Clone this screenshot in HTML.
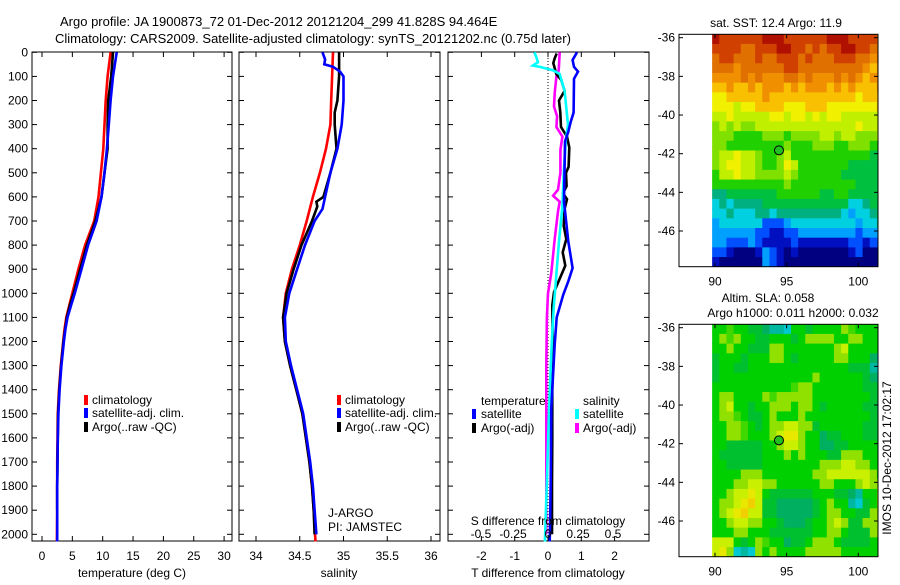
<!DOCTYPE html>
<html><head><meta charset="utf-8"><style>
body{margin:0;background:#fff;}
svg text{font-family:"Liberation Sans",sans-serif;font-size:12px;fill:#000;}
</style></head><body>
<svg id="chart" width="900" height="580" viewBox="0 0 900 580" xmlns="http://www.w3.org/2000/svg">
<rect width="900" height="580" fill="#fff"/>
<text x="60" y="26" style="font-size:13px">Argo profile: JA 1900873_72 01-Dec-2012 20121204_299 41.828S 94.464E</text>
<text x="55" y="43" style="font-size:13px">Climatology: CARS2009. Satellite-adjusted climatology: synTS_20121202.nc (0.75d later)</text>
<g id="g"></g>
</svg>
<script>
// ---------- data ----------
const depthGrid=[0,100,200,300,400,500,600,700,800,900,1000,1050,1100,1150,1200,1300,1400,1500,1600,1700,1800,1900,2030];
const tempClim=[11.3,10.8,10.5,10.3,10.1,9.7,9.3,8.6,7.1,6.0,5.0,4.5,4.0,3.7,3.5,3.1,2.8,2.6,2.55,2.5,2.5,2.5,2.45];
const tempSat=[12.3,11.7,11.3,11.0,10.7,10.3,9.8,9.0,7.6,6.5,5.4,4.8,4.2,3.85,3.6,3.2,2.9,2.7,2.6,2.55,2.5,2.5,2.5];
const tempArgo=[11.7,11.4,10.9,10.8,10.8,10.3,9.8,8.8,7.4,6.3,5.2,4.6,4.1,3.8,3.55,3.15,2.85,2.65,2.6,2.55,2.5,2.5,2.5];
const salDepth=[0,100,200,300,400,500,600,700,800,900,1000,1100,1200,1300,1400,1500,1600,1700,1800,1900,2030];
const salClim=[34.88,34.87,34.86,34.85,34.80,34.73,34.65,34.58,34.50,34.41,34.34,34.31,34.33,34.39,34.46,34.53,34.57,34.61,34.64,34.66,34.68];
const salSatDepth=[0,30,50,60,80,100,200,300,400,500,600,650,700,800,900,1000,1100,1200,1300,1400,1500,1600,1700,1800,1900,2000];
const salSat=[34.76,34.79,34.78,34.88,34.96,35.0,35.0,34.98,34.93,34.85,34.79,34.76,34.67,34.56,34.47,34.38,34.33,34.34,34.40,34.47,34.54,34.58,34.62,34.65,34.67,34.69];
const salArgoDepth=[0,100,200,250,300,350,400,500,600,620,640,660,700,800,900,1000,1100,1200,1300,1400,1500,1600,1700,1800,1900,2000];
const salArgo=[34.95,34.95,34.93,34.90,34.90,34.91,34.92,34.85,34.77,34.69,34.70,34.68,34.64,34.52,34.43,34.35,34.31,34.33,34.39,34.46,34.53,34.57,34.61,34.64,34.66,34.67];
const tSatDiffDepth=[0,32,60,80,110,250,290,330,370,620,785,895,950,1005,1100,1212,1475,1780,1980,2030];
const tSatDiff=[0.87,0.74,0.78,0.9,0.78,0.77,0.68,0.61,0.51,0.48,0.61,0.74,0.61,0.46,0.26,0.2,0.1,0.08,0.06,0.05];
const tArgoDiffDepth=[5,25,45,65,90,115,160,200,250,310,350,395,475,500,555,585,610,650,720,775,830,885,940,995,1050,1200,1400,1600,1800,2000];
const tArgoDiff=[0.26,0.2,0.16,0.2,0.25,0.40,0.50,0.33,0.37,0.39,0.57,0.64,0.62,0.54,0.56,0.45,0.57,0.5,0.47,0.55,0.44,0.52,0.35,0.18,0.13,0.14,0.13,0.13,0.12,0.12];
const sSatDiffDepth=[0,20,41,55,60,75,90,160,300,370,505,640,780,920,1060,1212,1475,1780,1980,2030];
const sSatDiff=[-0.103,-0.088,-0.075,-0.113,-0.063,0.038,0.088,0.125,0.15,0.133,0.118,0.108,0.083,0.063,0.043,0.028,0.008,-0.008,-0.02,-0.023];
const sArgoDiffDepth=[0,75,100,170,225,265,310,350,405,500,570,595,620,660,775,915,1000,1100,1300,1500,1700,1900,2000];
const sArgoDiff=[0.088,0.08,0.063,0.05,0.045,0.068,0.063,0.108,0.093,0.093,0.075,0.038,0.088,0.075,0.05,0.025,0,-0.008,-0.013,-0.013,-0.013,-0.013,-0.013];
const depthTicks=[0,100,200,300,400,500,600,700,800,900,1000,1100,1200,1300,1400,1500,1600,1700,1800,1900,2000];
const tempTicks=[0,5,10,15,20,25,30];
const salTicks=[34,34.5,35,35.5,36];
const diffTicks=[-2,-1,0,1,2];
const sDiffLabels=["-0.5","-0.25","0","0.25","0.5"];
const mapLatTicks=[-36,-38,-40,-42,-44,-46];
const mapLonTicks=[90,95,100];
const argoLon=94.464, argoLat=-41.828;
const sstPalette=["#000080","#0010c0","#0050ff","#00a0ff","#00d0e0","#00b080","#00c040","#20d000","#80e000","#c0f000","#f0f000","#f8c000","#f09000","#e07000","#d04000","#b01000"];
const sstRows=["feeeeeefffeeeeeefffeeeed","eeeeddeeeffeededeeffeedd","deedddeddeeededddeeeddcd","dddcddddddeedddddddddcbc","ccccdcdcccddcdcccdcdcbcc","bbcbbcbcccbcbcccbcbcbbbc","aabbbbbcbbbbbbbbbbbbabbb","aaa9aabbbbaaabbbaaaaaaab","99a99999aa9aa9a9aa999999","89898899999999999999a999","888777788878888998998889","887777777787778887788877","899a99877897777777777766","89aa998778a9777777766666","799a99888898777777666666","777777777787777777776666","556666666777777667766666","454555566666666666644566","445444554555555555434456","344444422234444444443445","333333221122333333332333","332223211112111111122122","221000132101000000012000","100000032100000000000000"];
const slaPalette=["#00c8d0","#00b8a0","#00b060","#00c030","#00d000","#40d800","#90e000","#c8f000","#e8e800","#f0d000"];
const slaRows=["445443321104434444654444","465644334443466664466444","446443336644444446744444","344434446643444446644421","344334444444444444433310","344444444444446444444321","444444444445664444444333","466444465666664444444433","467443446664664344444332","466543346444644444444433","446654346677663444444333","446654446788644233444333","443333344677644223344443","433333344464644433666444","443333344444444666776644","444466644444446677777764","444667766444444664446766","446778743333334443321446","466789733222223464410346","467897733222223466443366","446776644322234467633666","444664443333334466433366","777434654423346664333344","786010646444466666444444"];

// ---------- helpers ----------
const NS="http://www.w3.org/2000/svg";
const G=document.getElementById('g');
function mk(tag,attrs,parent){const e=document.createElementNS(NS,tag);for(const k in attrs)e.setAttribute(k,attrs[k]);(parent||G).appendChild(e);return e;}
const dY=d=>52.3+d*0.241;
const tX=v=>42+v*6.07;
const sX=v=>256+(v-34)*87.5;
const dfX=v=>548+v*33.3;
const sdX=v=>dfX(v*4);
const P1={x0:32,x1:232,y0:52,y1:541}, P2={x0:239,x1:440,y0:52,y1:541}, P3={x0:448,x1:649,y0:52,y1:541};

function frame(p,name){
  const r=mk('rect',{x:p.x0,y:p.y0,width:p.x1-p.x0,height:p.y1-p.y0,fill:'none',stroke:'#000','stroke-width':1});
  
  
  depthTicks.forEach(d=>{const y=dY(d);
    mk('line',{x1:p.x0,x2:p.x0+5,y1:y,y2:y,stroke:'#000'});
    mk('line',{x1:p.x1,x2:p.x1-5,y1:y,y2:y,stroke:'#000'});});
}
function xticks(p,vals,f,labels,name){
  vals.forEach((v,i)=>{const x=f(v);
    mk('line',{x1:x,x2:x,y1:p.y0,y2:p.y0+5,stroke:'#000'});
    mk('line',{x1:x,x2:x,y1:p.y1,y2:p.y1-5,stroke:'#000'});
    if(labels){const t=mk('text',{x:x,y:560,'text-anchor':'middle'});t.textContent=labels[i];
      
      }
  });
}
function line(depths,vals,fx,color,name,w){
  const pts=depths.map((d,i)=>fx(vals[i]).toFixed(1)+','+dY(d).toFixed(1)).join(' ');
  const e=mk('polyline',{points:pts,fill:'none',stroke:color,'stroke-width':w||2.6,'stroke-linejoin':'miter'});
  
  
}
function txt(x,y,s,name,anchor,extra){const t=mk('text',Object.assign({x:x,y:y,'text-anchor':anchor||'start'},extra||{}));t.textContent=s;
  
  return t;}
function marker(x,y,c){mk('rect',{x:x-2,y:y-9,width:4,height:10,fill:c});}

// ---------- panel 1: temperature ----------
frame(P1,'temperature-axes');
depthTicks.forEach(d=>txt(28,dY(d)+4,String(d),'depth-tick-label','end'));
xticks(P1,tempTicks,tX,tempTicks.map(String),'temperature-tick-label');
line(depthGrid,tempClim,tX,'#f00','temperature-climatology-line');
line(depthGrid.slice(0,22),tempArgo.slice(0,22),tX,'#000','temperature-argo-line');
line(depthGrid,tempSat,tX,'#00f','temperature-satellite-line');
txt(132,577,'temperature (deg C)','temperature-axis-title','middle');
marker(86,404,'#f00');txt(92,404,'climatology','legend-climatology');
marker(86,417,'#00f');txt(92,417,'satellite-adj. clim.','legend-satellite-adj');
marker(86,431,'#000');txt(92,431,'Argo(..raw -QC)','legend-argo-raw');

// ---------- panel 2: salinity ----------
frame(P2,'salinity-axes');
xticks(P2,salTicks,sX,salTicks.map(String),'salinity-tick-label');
line(salDepth,salClim,sX,'#f00','salinity-climatology-line');
line(salArgoDepth,salArgo,sX,'#000','salinity-argo-line');
line(salSatDepth,salSat,sX,'#00f','salinity-satellite-line');
txt(339,577,'salinity','salinity-axis-title','middle');
marker(339,404,'#f00');txt(345,404,'climatology','legend-climatology-2');
marker(339,417,'#00f');txt(345,417,'satellite-adj. clim.','legend-satellite-adj-2');
marker(339,431,'#000');txt(345,431,'Argo(..raw -QC)','legend-argo-raw-2');
txt(328,517,'J-ARGO','institution-label');
txt(328,531,'PI: JAMSTEC','pi-label');

// ---------- panel 3: differences ----------
frame(P3,'difference-axes');
xticks(P3,diffTicks,dfX,diffTicks.map(String),'t-diff-tick-label');
const z=mk('line',{x1:dfX(0),x2:dfX(0),y1:P3.y0,y2:P3.y1,stroke:'#000','stroke-dasharray':'1,2'});


line(sArgoDiffDepth,sArgoDiff,sdX,'#f0f','s-argo-diff-line');
line(tArgoDiffDepth,tArgoDiff,dfX,'#000','t-argo-diff-line');
line(sSatDiffDepth,sSatDiff,sdX,'#0ff','s-satellite-diff-line');
line(tSatDiffDepth,tSatDiff,dfX,'#00f','t-satellite-diff-line');
txt(548,577,'T difference from climatology','t-diff-axis-title','middle');
txt(548,525,'S difference from climatology','s-diff-axis-title','middle');
[481,513,548,578,613].forEach((x,i)=>txt(x,538,sDiffLabels[i],'s-diff-tick-label','middle'));
txt(481,405,'temperature','legend-temperature-heading');
txt(583,405,'salinity','legend-salinity-heading');
marker(474,418,'#00f');txt(481,418,'satellite','legend-t-satellite');
marker(474,432,'#000');txt(481,432,'Argo(-adj)','legend-t-argo');
marker(577,418,'#0ff');txt(583,418,'satellite','legend-s-satellite');
marker(577,432,'#f0f');txt(583,432,'Argo(-adj)','legend-s-argo');

// ---------- maps ----------
function drawMap(off,rows,pal,name){
  const fx0=679,fx1=878,fy0=34.3+off,fy1=266.7+off;
  const mX=l=>715+(l-90)*14.33, mY=la=>37.7+off+(-36-la)*19.33;
  const cid='clip'+off;
  const cp=mk('clipPath',{id:cid});mk('rect',{x:fx0,y:fy0,width:fx1-fx0,height:fy1-fy0},cp);
  const g=mk('g',{'clip-path':'url(#'+cid+')'});
  
  
  const latTop=-35.82, step=(47.85-35.82)/24;
  rows.forEach((r,i)=>{for(let j=0;j<r.length;j++){
    const lon=89.8+j*0.5, lat=latTop-i*step;
    const x=mX(lon), y=mY(lat);
    mk('rect',{x:x,y:y,width:mX(lon+0.5)-x+0.4,height:mY(lat-step)-y+0.4,fill:pal[parseInt(r[j],16)]},g);
  }});
  const fr=mk('rect',{x:fx0,y:fy0,width:fx1-fx0,height:fy1-fy0,fill:'none',stroke:'#000'});
  
  
  mapLatTicks.forEach(la=>{const y=mY(la);
    mk('line',{x1:fx0,x2:fx0+4,y1:y,y2:y,stroke:'#000'});mk('line',{x1:fx1,x2:fx1-4,y1:y,y2:y,stroke:'#000'});
    txt(675,y+4,String(la),'map-lat-tick-label','end');});
  mapLonTicks.forEach(lo=>{const x=mX(lo);
    mk('line',{x1:x,x2:x,y1:fy0,y2:fy0+4,stroke:'#000'});mk('line',{x1:x,x2:x,y1:fy1,y2:fy1-4,stroke:'#000'});
    txt(x,fy1+19,String(lo),'map-lon-tick-label','middle');});
  const c=mk('circle',{cx:mX(argoLon),cy:mY(argoLat),r:4.5,fill:'#20c020',stroke:'#000','stroke-width':1});
  
  
}
drawMap(0,sstRows,sstPalette,'sst-map');
txt(776,27,'sat. SST: 12.4 Argo: 11.9','sst-map-title','middle');
drawMap(290,slaRows,slaPalette,'sla-map');
txt(768,302,'Altim. SLA: 0.058','sla-map-title','middle');
txt(793,317,'Argo h1000: 0.011 h2000: 0.032','sla-map-subtitle','middle');
txt(0,0,'IMOS 10-Dec-2012 17:02:17','imos-timestamp','middle',{transform:'translate(891,458) rotate(-90)'});
</script>
</body></html>
